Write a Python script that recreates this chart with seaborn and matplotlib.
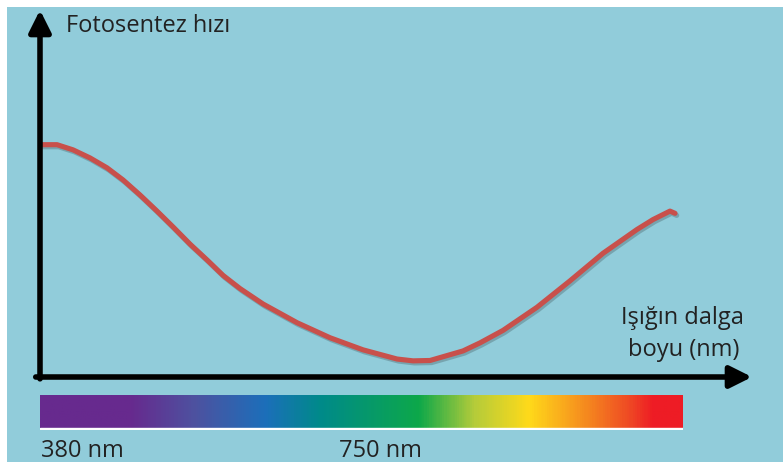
import matplotlib
matplotlib.use('Agg')
import matplotlib.pyplot as plt
import matplotlib.patheffects as pe
from matplotlib.colors import LinearSegmentedColormap
import numpy as np
import pandas as pd
import seaborn as sns

# curve (x: 0..100 along the wavelength axis, y: 0..100 rate)
wave_pos = [0.0, 2.39, 4.63, 7.02, 9.41, 11.66, 14.04, 16.43, 18.68, 21.07,
            23.46, 25.70, 28.09, 31.32, 36.10, 40.73, 45.37, 50.14, 52.39, 54.78,
            59.41, 61.80, 65.03, 69.80, 74.44, 79.07, 83.85, 86.10, 88.48, 89.19]
rate = [63.3, 63.3, 61.9, 59.7, 57.0, 53.7, 49.6, 45.2, 40.9, 36.2,
        31.9, 27.7, 24.1, 19.9, 14.8, 10.7, 7.4, 4.9, 4.4, 4.5,
        7.1, 9.3, 12.7, 19.0, 26.2, 33.7, 40.2, 42.9, 45.2, 44.6]

# spectrum bar colour stops
spec_stops = [0.0, 0.14, 0.24, 0.35, 0.435, 0.59, 0.677, 0.762, 0.855, 0.918, 0.956, 1.0]
spec_colors = ['#672A8E', '#672A8E', '#4D52A0', '#1C6FBA', '#008A8A', '#0DA84A',
               '#B5CC3A', '#FFDA1A', '#F5861F', '#EF4A24', '#EE1C25', '#EE1C25']

y_label = 'Fotosentez hızı'
x_label = ['Işığın dalga', 'boyu (nm)']
bar_labels = ['380 nm', '750 nm']

sns.set_theme(style='white')
plt.rcParams['font.family'] = ['Open Sans', 'DejaVu Sans']

W, H = 783, 462
bg = '#91CCDA'
fig = plt.figure(figsize=(W / 100, H / 100), dpi=100, facecolor='white')

# blue background panel (thin white border top/left)
bg_ax = fig.add_axes([7 / W, 0, 1 - 7 / W, 1 - 7 / H])
bg_ax.set_facecolor(bg)
bg_ax.set_xticks([]); bg_ax.set_yticks([])
for s in bg_ax.spines.values():
    s.set_visible(False)

# main plot area
ax = fig.add_axes([40 / W, 1 - 377 / H, 712 / W, 367 / H])
ax.patch.set_alpha(0)
df = pd.DataFrame({'wave': wave_pos, 'rate': rate})
sns.lineplot(data=df, x='wave', y='rate', color='#C8504B', lw=3.7,
             estimator=None, ax=ax, solid_joinstyle='round', solid_capstyle='round',
             path_effects=[pe.SimpleLineShadow(offset=(1.2, -1.5), alpha=0.22),
                           pe.Normal()])
ax.set_xlim(0, 100)
ax.set_ylim(0, 100)
ax.set_xticks([]); ax.set_yticks([])
ax.set_xlabel(''); ax.set_ylabel('')
for s in ax.spines.values():
    s.set_visible(False)

# axis arrows
arrow = dict(arrowstyle='-|>,head_length=1.1,head_width=0.55', color='black',
             lw=4, shrinkA=0, shrinkB=0)
ax.annotate('', xy=(0, 1), xytext=(0, -0.005), xycoords='axes fraction',
            textcoords='axes fraction', arrowprops=arrow, annotation_clip=False)
ax.annotate('', xy=(1, 0), xytext=(-0.006, 0), xycoords='axes fraction',
            textcoords='axes fraction', arrowprops=arrow, annotation_clip=False)

# spectrum bar
cmap = LinearSegmentedColormap.from_list('spec', list(zip(spec_stops, spec_colors)))
bar_ax = fig.add_axes([40 / W, 1 - 430 / H, 643 / W, 35 / H])
bar_ax.imshow(np.linspace(0, 1, 600)[None, :], cmap=cmap, aspect='auto',
              extent=(0, 1, 0.06, 1))
bar_ax.axhspan(0, 0.06, color='white')
bar_ax.set_xlim(0, 1); bar_ax.set_ylim(0, 1)
bar_ax.set_xticks([]); bar_ax.set_yticks([])
for s in bar_ax.spines.values():
    s.set_visible(False)

# texts
tc = '#222222'
fs = 17
fig.text(66 / W, 1 - 32 / H, y_label, fontsize=fs, color=tc, va='baseline', ha='left')
fig.text(682 / W, 1 - 318 / H, x_label[0], fontsize=fs, color=tc, va='center', ha='center')
fig.text(684 / W, 1 - 350 / H, x_label[1], fontsize=fs, color=tc, va='center', ha='center')
fig.text(41 / W, 1 - 457 / H, bar_labels[0], fontsize=fs, color=tc, va='baseline', ha='left')
fig.text(339 / W, 1 - 457 / H, bar_labels[1], fontsize=fs, color=tc, va='baseline', ha='left')

plt.savefig('out.png', dpi=100, facecolor='white')
plt.close()
